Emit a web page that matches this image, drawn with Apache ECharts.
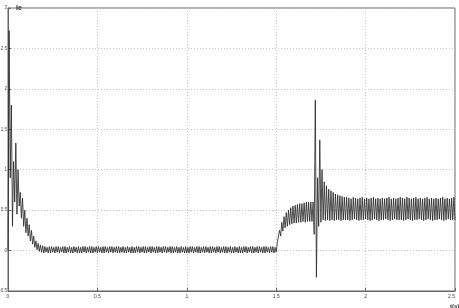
<!DOCTYPE html>
<html>
<head>
    <meta charset="utf-8">
    <script src="https://cdn.jsdelivr.net/npm/echarts@6/dist/echarts.min.js"></script>
</head>
<body style="margin:0">
    <div id="main" style="width:459px;height:308px;"></div>
    <script type="text/javascript">
        // sample spacing of the trace (s), 16 samples per 0.1 s row
        var step = 0.00625;
        // Ie, alternating trough / crest
        var ie = [
            0.00, 2.72, 0.90, 1.80, 0.30, 1.10, 0.60, 1.33, 0.45, 1.00, 0.55, 0.72, 0.40, 0.65, 0.30, 0.50,        // 0.0
            0.22, 0.40, 0.18, 0.32, 0.12, 0.25, 0.08, 0.18, 0.04, 0.12, 0.01, 0.09, -0.01, 0.07, -0.02, 0.06,     // 0.1
            -0.03, 0.05, -0.02, 0.04, -0.03, 0.05, -0.03, 0.05, -0.02, 0.04, -0.03, 0.05, -0.02, 0.05, -0.03, 0.04, // 0.2
            -0.02, 0.05, -0.03, 0.05, -0.03, 0.04, -0.02, 0.05, -0.03, 0.04, -0.03, 0.05, -0.02, 0.04, -0.03, 0.05, // 0.3
            -0.03, 0.04, -0.03, 0.05, -0.02, 0.05, -0.03, 0.04, -0.02, 0.05, -0.03, 0.05, -0.03, 0.04, -0.02, 0.05, // 0.4
            -0.03, 0.05, -0.02, 0.04, -0.03, 0.05, -0.03, 0.05, -0.02, 0.04, -0.03, 0.05, -0.02, 0.05, -0.03, 0.04, // 0.5
            -0.02, 0.05, -0.03, 0.05, -0.03, 0.04, -0.02, 0.05, -0.03, 0.04, -0.03, 0.05, -0.02, 0.04, -0.03, 0.05, // 0.6
            -0.03, 0.04, -0.03, 0.05, -0.02, 0.05, -0.03, 0.04, -0.02, 0.05, -0.03, 0.05, -0.03, 0.04, -0.02, 0.05, // 0.7
            -0.03, 0.05, -0.02, 0.04, -0.03, 0.05, -0.03, 0.05, -0.02, 0.04, -0.03, 0.05, -0.02, 0.05, -0.03, 0.04, // 0.8
            -0.02, 0.05, -0.03, 0.05, -0.03, 0.04, -0.02, 0.05, -0.03, 0.04, -0.03, 0.05, -0.02, 0.04, -0.03, 0.05, // 0.9
            -0.03, 0.04, -0.03, 0.05, -0.02, 0.05, -0.03, 0.04, -0.02, 0.05, -0.03, 0.05, -0.03, 0.04, -0.02, 0.05, // 1.0
            -0.03, 0.05, -0.02, 0.04, -0.03, 0.05, -0.03, 0.05, -0.02, 0.04, -0.03, 0.05, -0.02, 0.05, -0.03, 0.04, // 1.1
            -0.02, 0.05, -0.03, 0.05, -0.03, 0.04, -0.02, 0.05, -0.03, 0.04, -0.03, 0.05, -0.02, 0.04, -0.03, 0.05, // 1.2
            -0.03, 0.04, -0.03, 0.05, -0.02, 0.05, -0.03, 0.04, -0.02, 0.05, -0.03, 0.05, -0.03, 0.04, -0.02, 0.05, // 1.3
            -0.03, 0.05, -0.02, 0.04, -0.03, 0.05, -0.03, 0.05, -0.02, 0.04, -0.03, 0.05, -0.02, 0.05, -0.03, 0.04, // 1.4
            -0.02, 0.10, 0.08, 0.25, 0.18, 0.35, 0.24, 0.42, 0.28, 0.47, 0.30, 0.50, 0.32, 0.53, 0.33, 0.55,     // 1.5
            0.34, 0.56, 0.34, 0.57, 0.35, 0.58, 0.35, 0.58, 0.36, 0.59, 0.35, 0.60, 0.36, 0.60, 0.36, 0.60,      // 1.6
            0.36, 0.60, 0.20, 1.86, -0.33, 0.90, 0.30, 1.37, 0.35, 1.00, 0.38, 0.85, 0.37, 0.80, 0.38, 0.76,     // 1.7
            0.37, 0.74, 0.38, 0.72, 0.37, 0.70, 0.38, 0.69, 0.38, 0.68, 0.37, 0.67, 0.38, 0.66, 0.38, 0.66,      // 1.8
            0.38, 0.65, 0.37, 0.64, 0.38, 0.66, 0.39, 0.65, 0.38, 0.64, 0.37, 0.65, 0.38, 0.66, 0.38, 0.64,      // 1.9
            0.39, 0.65, 0.38, 0.64, 0.37, 0.65, 0.38, 0.66, 0.39, 0.64, 0.38, 0.65, 0.37, 0.64, 0.38, 0.65,      // 2.0
            0.38, 0.64, 0.39, 0.65, 0.38, 0.66, 0.37, 0.64, 0.38, 0.65, 0.39, 0.64, 0.38, 0.65, 0.38, 0.66,      // 2.1
            0.38, 0.65, 0.37, 0.64, 0.38, 0.66, 0.39, 0.65, 0.38, 0.64, 0.37, 0.65, 0.38, 0.66, 0.38, 0.64,      // 2.2
            0.39, 0.65, 0.38, 0.64, 0.37, 0.65, 0.38, 0.66, 0.39, 0.64, 0.38, 0.65, 0.37, 0.64, 0.38, 0.65,      // 2.3
            0.38, 0.64, 0.39, 0.65, 0.38, 0.66, 0.37, 0.64, 0.38, 0.65, 0.39, 0.64, 0.38, 0.65, 0.38, 0.66,      // 2.4
            0.38                                                                                                   // 2.5
        ];
        var xTicks = [0, 0.5, 1, 1.5, 2, 2.5];
        var yTicks = [-0.5, 0, 0.5, 1, 1.5, 2, 2.5, 3];

        var pts = ie.map(function (v, i) { return [+(i * step).toFixed(5), v]; });

        var myChart = echarts.init(document.getElementById('main'));
        var option = {
            animation: false,
            backgroundColor: '#fff',
            textStyle: { fontFamily: 'Liberation Sans' },
            title: [{
                text: 'Ie', left: 11, top: 0,
                textStyle: { fontSize: 7, fontWeight: 'bold', color: '#333' }
            }, {
                text: 't(s)', left: 445, top: 298,
                textStyle: { fontSize: 6, fontWeight: 'bold', color: '#333' }
            }],
            grid: {
                left: 8, right: 4, top: 8, bottom: 17,
                outerBoundsMode: 'none',
                show: true, borderColor: '#666', borderWidth: 1
            },
            xAxis: {
                type: 'value', min: xTicks[0], max: xTicks[xTicks.length - 1], interval: 0.5,
                axisLine: { onZero: false, lineStyle: { color: '#666' } },
                axisTick: { inside: true, length: 3, lineStyle: { color: '#666' } },
                axisLabel: { fontSize: 5, color: '#444', margin: 3, alignMaxLabel: 'right' },
                splitLine: { lineStyle: { color: '#c4c4c4', type: [1, 2], width: 1 } }
            },
            yAxis: {
                type: 'value', min: yTicks[0], max: yTicks[yTicks.length - 1], interval: 0.5,
                axisLine: { show: true, onZero: false, lineStyle: { color: '#666' } },
                axisTick: { show: true, inside: true, length: 3, lineStyle: { color: '#666' } },
                axisLabel: { fontSize: 4.5, color: '#444', margin: 1 },
                splitLine: { lineStyle: { color: '#c4c4c4', type: [1, 2], width: 1 } }
            },
            series: [{
                type: 'line',
                data: pts,
                showSymbol: false,
                lineStyle: { color: '#222', width: 0.8 }
            }]
        };
        myChart.setOption(option);
    </script>
</body>
</html>
